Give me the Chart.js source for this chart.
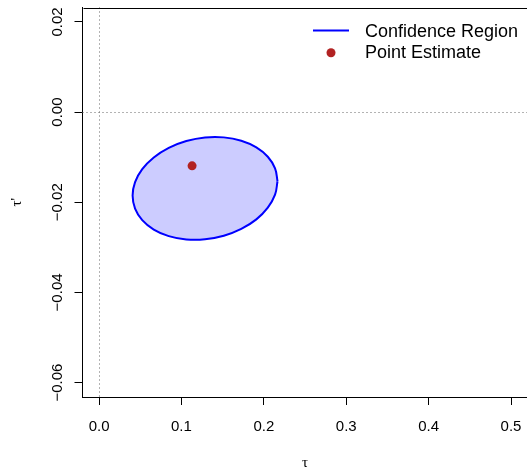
<!DOCTYPE html>
<html>
<head>
<meta charset="utf-8">
<script src="https://cdn.jsdelivr.net/npm/chart.js@4/dist/chart.umd.min.js"></script>
<style>
  html, body { margin: 0; padding: 0; background: #fff; overflow: hidden; }
  #wrap { width: 527px; height: 470px; overflow: hidden; position: relative; }
  canvas { display: block; }
</style>
</head>
<body>
<div id="wrap"><canvas id="c" width="532" height="470" style="width:532px;height:470px"></canvas></div>
<script>
// ---- data ----
const xTicks = [0, 0.1, 0.2, 0.3, 0.4, 0.5];
const xTickLabels = ['0.0', '0.1', '0.2', '0.3', '0.4', '0.5'];
const yTicks = [-0.06, -0.04, -0.02, 0, 0.02];
const yTickLabels = ['\u22120.06', '\u22120.04', '\u22120.02', '0.00', '0.02'];

// confidence region boundary (tau, tau'), traced around the ellipse
const regionTau = [0.2166, 0.2136, 0.2048, 0.1909, 0.1726, 0.1514, 0.1286, 0.1059, 0.0846, 0.0664, 0.0524, 0.0437,
                   0.0407, 0.0437, 0.0524, 0.0664, 0.0846, 0.1059, 0.1286, 0.1514, 0.1726, 0.1909, 0.2048, 0.2136, 0.2166];
const regionTauPrime = [-0.01534, -0.01832, -0.02120, -0.02380, -0.02592, -0.02744, -0.02823, -0.02826, -0.02752, -0.02605, -0.02396, -0.02140,
                        -0.01853, -0.01555, -0.01266, -0.01007, -0.00794, -0.00643, -0.00563, -0.00561, -0.00635, -0.00782, -0.00990, -0.01247, -0.01534];

const pointTau = [0.1129];
const pointTauPrime = [-0.01193];

const legendLabels = ['Confidence Region', 'Point Estimate'];
const xTitle = '\u03c4';
const yTitle = '\u03c4\'';

// ---- drawing ----
const tickFont = '15px "Liberation Sans", Arial, Helvetica, sans-serif';
const legendFont = '18px "Liberation Sans", Arial, Helvetica, sans-serif';
const titleFont = '15px "Liberation Serif", "DejaVu Serif", serif';

const overlay = {
  id: 'overlay',
  beforeDatasetsDraw(chart) {
    const { ctx, chartArea: a, scales: { x, y } } = chart;
    ctx.save();
    ctx.strokeStyle = '#666';
    ctx.lineWidth = 1;
    ctx.setLineDash([1, 3]);
    const x0 = Math.round(x.getPixelForValue(0)) + 0.5;
    const y0 = Math.round(y.getPixelForValue(0)) + 0.5;
    ctx.beginPath();
    ctx.moveTo(x0, a.top); ctx.lineTo(x0, a.bottom);
    ctx.moveTo(a.left, y0); ctx.lineTo(a.right, y0);
    ctx.stroke();
    ctx.restore();
  },
  afterDraw(chart) {
    const { ctx, chartArea: a, scales: { x, y } } = chart;
    ctx.save();
    ctx.strokeStyle = '#000';
    ctx.lineWidth = 1;
    ctx.beginPath();
    ctx.moveTo(Math.round(a.left) + 0.5, Math.round(a.top) + 0.5);
    ctx.lineTo(Math.round(a.right) + 0.5, Math.round(a.top) + 0.5);
    ctx.lineTo(Math.round(a.right) + 0.5, Math.round(a.bottom) + 0.5);
    ctx.stroke();

    ctx.fillStyle = '#000';
    ctx.font = tickFont;
    ctx.textAlign = 'center';
    ctx.textBaseline = 'alphabetic';
    xTicks.forEach((v, i) => {
      ctx.fillText(xTickLabels[i], x.getPixelForValue(v), a.bottom + 33.5);
    });
    yTicks.forEach((v, i) => {
      ctx.save();
      ctx.translate(a.left - 21, y.getPixelForValue(v));
      ctx.rotate(-Math.PI / 2);
      ctx.fillText(yTickLabels[i], 0, 0);
      ctx.restore();
    });
    ctx.font = titleFont;
    ctx.fillText(xTitle, (a.left + a.right) / 2, a.bottom + 70);
    ctx.save();
    ctx.translate(21, (a.top + a.bottom) / 2);
    ctx.rotate(-Math.PI / 2);
    ctx.fillText(yTitle, 0, 0);
    ctx.restore();

    ctx.font = legendFont;
    ctx.textAlign = 'left';
    ctx.strokeStyle = '#0000FF';
    ctx.lineWidth = 2;
    ctx.beginPath();
    ctx.moveTo(313, 30.5); ctx.lineTo(349, 30.5);
    ctx.stroke();
    ctx.fillStyle = '#000';
    ctx.fillText(legendLabels[0], 365, 36.7);
    ctx.fillStyle = '#B22222';
    ctx.beginPath();
    ctx.arc(331, 52.7, 4.5, 0, Math.PI * 2);
    ctx.fill();
    ctx.fillStyle = '#000';
    ctx.fillText(legendLabels[1], 365, 58.3);
    ctx.restore();
  }
};

new Chart(document.getElementById('c'), {
  type: 'scatter',
  data: {
    datasets: [
      {
        label: legendLabels[1],
        data: pointTau.map((v, i) => ({ x: v, y: pointTauPrime[i] })),
        pointRadius: 4.5,
        pointHoverRadius: 4.5,
        backgroundColor: '#B22222',
        borderWidth: 0,
        order: 0
      },
      {
        label: legendLabels[0],
        data: regionTau.map((v, i) => ({ x: v, y: regionTauPrime[i] })),
        showLine: true,
        fill: 'shape',
        tension: 0.4,
        borderColor: '#0000FF',
        borderWidth: 2,
        backgroundColor: '#CCCCFF',
        pointRadius: 0,
        pointHoverRadius: 0,
        order: 1
      }
    ]
  },
  options: {
    responsive: false,
    animation: false,
    devicePixelRatio: 1,
    layout: { padding: { left: 0, top: 7.5, right: 0.9, bottom: 0 } },
    plugins: { legend: { display: false }, tooltip: { enabled: false } },
    scales: {
      x: {
        type: 'linear',
        min: -0.0201,
        max: 0.52,
        afterBuildTicks: s => { s.ticks = xTicks.map(v => ({ value: v })); },
        afterFit: s => { s.height = 73; },
        grid: { drawOnChartArea: false, drawTicks: true, tickLength: 8, color: '#000', lineWidth: 1 },
        border: { display: true, color: '#000', width: 1 },
        ticks: { display: false }
      },
      y: {
        type: 'linear',
        min: -0.0632,
        max: 0.0232,
        afterBuildTicks: s => { s.ticks = yTicks.map(v => ({ value: v })); },
        afterFit: s => { s.width = 82.5; },
        grid: { drawOnChartArea: false, drawTicks: true, tickLength: 8, color: '#000', lineWidth: 1 },
        border: { display: true, color: '#000', width: 1 },
        ticks: { display: false }
      }
    }
  },
  plugins: [overlay]
});
</script>
</body>
</html>
